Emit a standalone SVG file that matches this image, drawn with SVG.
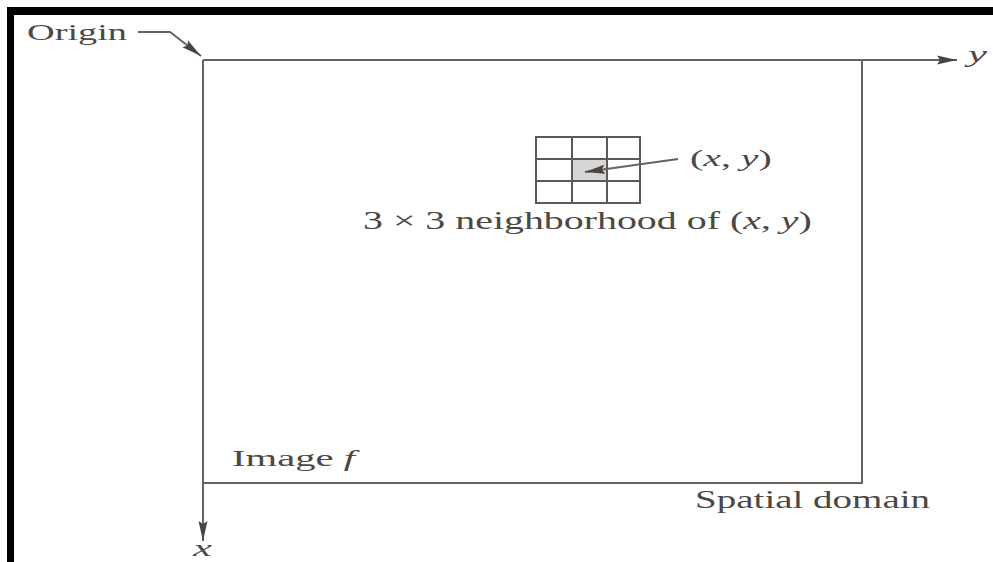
<svg xmlns="http://www.w3.org/2000/svg" width="993" height="562" viewBox="0 0 993 562">
  <style>
    .frame { fill: #000000; }
    .edge { stroke: #67625c; stroke-width: 2; fill: none; }
    .grid { stroke: #5e5953; stroke-width: 2; fill: none; }
    .lbl { font-family: "Liberation Serif", "Times New Roman", serif; fill: #4d4843; }
    .it { font-style: italic; }
  </style>
  <defs>
    <marker id="head" viewBox="0 0 20 10" refX="20" refY="5" markerWidth="20" markerHeight="10" markerUnits="userSpaceOnUse" orient="auto">
      <path d="M0,0.5 L20,5 L0,9.5 L3,5 Z" fill="#4a4540"/>
    </marker>
  </defs>

  <rect width="993" height="562" fill="#ffffff"/>

  <!-- page frame bars -->
  <g id="frame">
    <rect class="frame" x="7" y="7" width="986" height="8"/>
    <rect class="frame" x="7" y="7" width="7" height="555"/>
  </g>

  <!-- image f (spatial domain) -->
  <g id="image-f">
    <path class="edge" d="M203,60 H862 V483 H203"/>
    <g transform="translate(232,466) scale(1.767,1)">
      <text class="lbl" font-size="23" x="0" y="0">Image <tspan class="it">f</tspan></text>
    </g>
  </g>

  <g id="spatial-domain">
    <g transform="translate(930,508) scale(1.5,1)">
      <text class="lbl" font-size="26" x="0" y="0" text-anchor="end">Spatial domain</text>
    </g>
  </g>

  <!-- 3x3 neighbourhood with centre pixel -->
  <g id="neighborhood">
    <rect x="572" y="159" width="35" height="22" fill="#d6d6d6"/>
    <rect class="grid" x="536" y="137" width="104" height="66"/>
    <path class="grid" d="M572,137 V203 M607,137 V203 M536,159 H640 M536,181 H640"/>
    <g transform="translate(363,229) scale(1.534,1)">
      <text class="lbl" font-size="26" x="0" y="0">3 × 3 neighborhood of (<tspan class="it">x</tspan>, <tspan class="it">y</tspan>)</text>
    </g>
  </g>

  <g id="pixel-label">
    <g transform="translate(690,166) scale(1.66,1)">
      <text class="lbl" font-size="24" x="0" y="0">(<tspan class="it">x</tspan>, <tspan class="it">y</tspan>)</text>
    </g>
  </g>

  <g id="origin-label">
    <g transform="translate(27,40) scale(1.665,1)">
      <text class="lbl" font-size="23" x="0" y="0">Origin</text>
    </g>
  </g>

  <g id="axis-y-label">
    <g transform="translate(968,62) scale(1.78,1)">
      <text class="lbl it" font-size="24" x="0" y="0">y</text>
    </g>
  </g>

  <g id="axis-x-label">
    <g transform="translate(193,556) scale(1.78,1)">
      <text class="lbl it" font-size="24" x="0" y="0">x</text>
    </g>
  </g>

  <!-- axes and pointers -->
  <g id="connectors">
    <line class="edge" x1="203" y1="60" x2="957" y2="60" marker-end="url(#head)"/>
    <line class="edge" x1="203" y1="60" x2="203" y2="541" marker-end="url(#head)"/>
    <polyline class="edge" points="138,32 170,32 201,56" marker-end="url(#head)"/>
    <line class="edge" x1="678" y1="159" x2="585" y2="172" marker-end="url(#head)"/>
  </g>
</svg>
